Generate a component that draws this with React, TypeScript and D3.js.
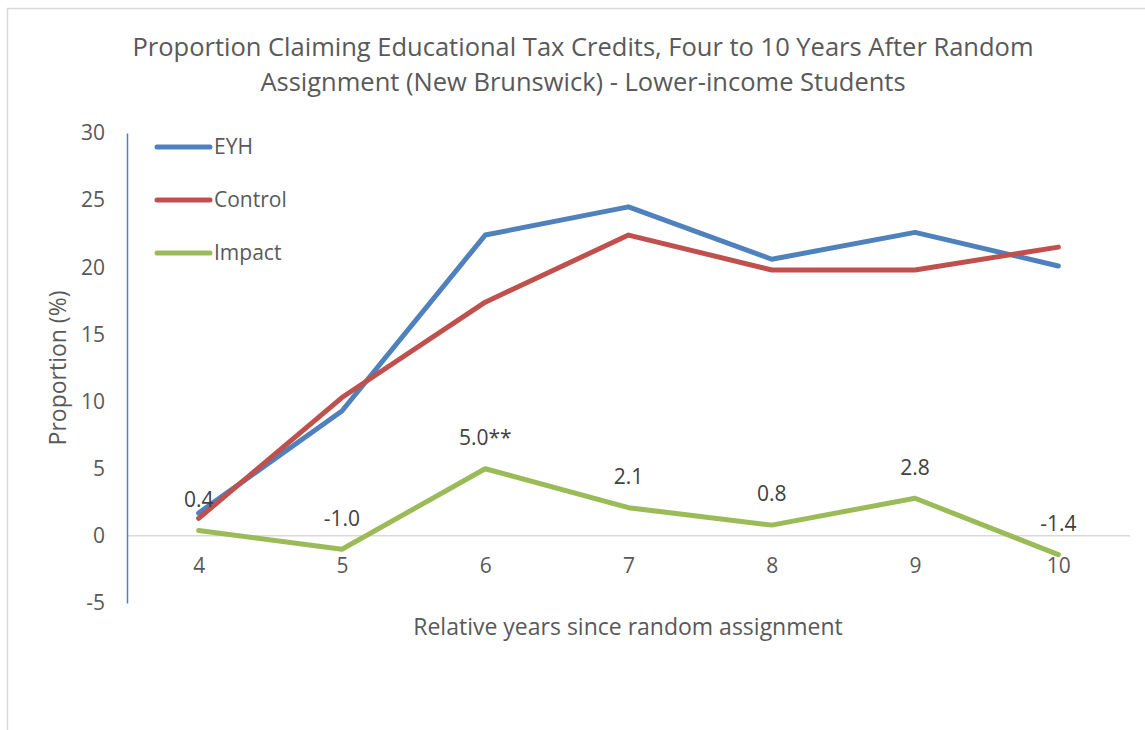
import { useEffect, useRef } from 'react';
import * as d3 from 'd3';

const years = ['4', '5', '6', '7', '8', '9', '10'];
const eyh = [1.7, 9.3, 22.4, 24.5, 20.6, 22.6, 20.1];
const control = [1.3, 10.3, 17.4, 22.4, 19.8, 19.8, 21.5];
const impact = [0.4, -1.0, 5.0, 2.1, 0.8, 2.8, -1.4];
const impactLabels = ['0.4', '-1.0', '5.0**', '2.1', '0.8', '2.8', '-1.4'];
const yTicks = [-5, 0, 5, 10, 15, 20, 25, 30];

const series = [
  { name: 'EYH', values: eyh, color: '#4F81BD' },
  { name: 'Control', values: control, color: '#C0504D' },
  { name: 'Impact', values: impact, color: '#9BBB59' },
];

const FONT = '"Open Sans", sans-serif';

const App = () => {
  const ref = useRef<SVGSVGElement>(null);

  useEffect(() => {
    const svg = d3.select(ref.current);
    svg.selectAll('*').remove();

    const left = 127;
    const right = 1130;
    const top = 133;
    const bottom = 603;

    const x = d3.scalePoint().domain(years).range([left, right]).padding(0.5);
    const y = d3.scaleLinear().domain([-5, 30]).range([bottom, top]);

    // frame
    svg.append('rect')
      .attr('x', 7.5).attr('y', 8.5)
      .attr('width', 1160).attr('height', 740)
      .attr('fill', '#fff')
      .attr('stroke', '#d9d9d9')
      .attr('stroke-width', 1.5);

    // title
    const title = svg.append('text')
      .attr('text-anchor', 'middle')
      .attr('font-family', FONT)
      .attr('font-size', 25.5)
      .attr('fill', '#595959');
    title.append('tspan').attr('x', 583).attr('y', 56)
      .text('Proportion Claiming Educational Tax Credits, Four to 10 Years After Random');
    title.append('tspan').attr('x', 583).attr('y', 91)
      .text('Assignment (New Brunswick) - Lower-income Students');

    // zero gridline
    svg.append('line')
      .attr('x1', left).attr('x2', right)
      .attr('y1', y(0)).attr('y2', y(0))
      .attr('stroke', '#d9d9d9')
      .attr('stroke-width', 1.5);

    // y axis
    const yAxis = svg.append('g')
      .attr('transform', `translate(${left},0)`)
      .call(d3.axisLeft(y).tickValues(yTicks).tickSize(0).tickPadding(22).tickFormat((d) => String(d)));
    yAxis.select('.domain').attr('stroke', '#4F81BD').attr('stroke-width', 1.5);
    yAxis.selectAll('text')
      .attr('font-family', FONT)
      .attr('font-size', 21)
      .attr('fill', '#595959');

    // x tick labels
    const xAxis = svg.append('g')
      .attr('transform', `translate(0,${y(0)})`)
      .call(d3.axisBottom(x).tickSize(0).tickPadding(22));
    xAxis.select('.domain').remove();
    xAxis.selectAll('text')
      .attr('font-family', FONT)
      .attr('font-size', 21)
      .attr('fill', '#595959');

    const line = d3.line<number>()
      .x((_, i) => x(years[i]) as number)
      .y((d) => y(d));

    series.forEach((s) => {
      svg.append('path')
        .datum(s.values)
        .attr('d', line)
        .attr('fill', 'none')
        .attr('stroke', s.color)
        .attr('stroke-width', 5)
        .attr('stroke-linejoin', 'round')
        .attr('stroke-linecap', 'round');
    });

    // data labels
    svg.append('g')
      .selectAll('text')
      .data(impact)
      .enter()
      .append('text')
      .attr('x', (_, i) => x(years[i]) as number)
      .attr('y', (d) => y(d) - 31)
      .attr('dy', '0.35em')
      .attr('text-anchor', 'middle')
      .attr('font-family', FONT)
      .attr('font-size', 21)
      .attr('fill', '#404040')
      .text((_, i) => impactLabels[i]);

    // legend
    const legend = svg.append('g')
      .selectAll('g')
      .data(series)
      .enter()
      .append('g')
      .attr('transform', (_, i) => `translate(157,${147 + i * 53})`);
    legend.append('line')
      .attr('x1', 0).attr('x2', 53)
      .attr('stroke', (d) => d.color)
      .attr('stroke-width', 5)
      .attr('stroke-linecap', 'round');
    legend.append('text')
      .attr('x', 57)
      .attr('dy', '0.35em')
      .attr('font-family', FONT)
      .attr('font-size', 21)
      .attr('fill', '#595959')
      .text((d) => d.name);

    // axis titles
    svg.append('text')
      .attr('x', 628).attr('y', 627)
      .attr('dy', '0.35em')
      .attr('text-anchor', 'middle')
      .attr('font-family', FONT)
      .attr('font-size', 23)
      .attr('fill', '#595959')
      .text('Relative years since random assignment');

    svg.append('text')
      .attr('transform', `translate(58,${(top + bottom) / 2}) rotate(-90)`)
      .attr('dy', '0.35em')
      .attr('text-anchor', 'middle')
      .attr('font-family', FONT)
      .attr('font-size', 23)
      .attr('fill', '#595959')
      .text('Proportion (%)');
  }, []);

  return (
    <div style={{ position: 'absolute', left: 0, top: 0 }}>
      <svg ref={ref} width={1145} height={730}></svg>
    </div>
  );
};

export default App;
